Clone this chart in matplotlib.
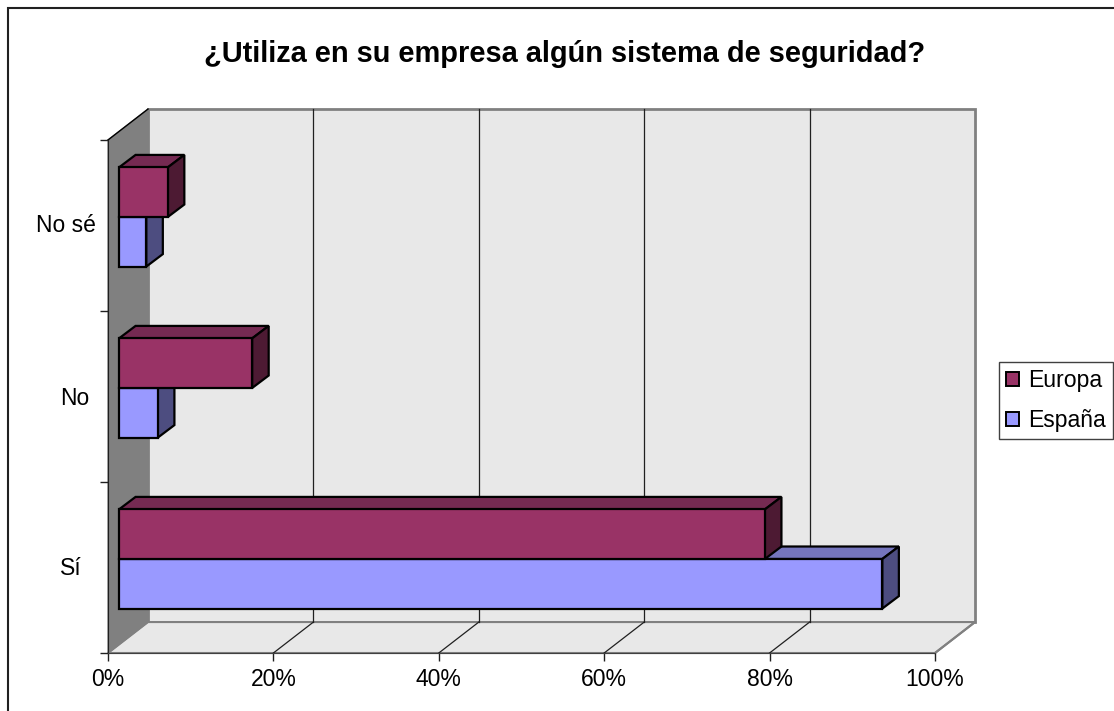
import matplotlib.pyplot as plt
from matplotlib.patches import Polygon, Patch, Rectangle

categories = ['Sí', 'No', 'No sé']
espana = [92.3, 4.7, 3.3]
europa = [78.1, 16.1, 5.9]
x_ticks = [0, 20, 40, 60, 80, 100]
x_labels = ['0%', '20%', '40%', '60%', '80%', '100%']

W, H = 1114, 711
# depth of the box in axis units
DX, DY = 4.84, 0.181
BAR_H = 0.29
BAR_X0 = 0.275 * DX
BAR_Y0 = 0.275 * DY
BAR_DX, BAR_DY = 2.0, 0.073

plt.rcParams['font.family'] = ['Liberation Sans', 'DejaVu Sans']

fig = plt.figure(figsize=(W / 100, H / 100), dpi=100)
# chart border, right and bottom edges run off the picture
fig.add_artist(Rectangle((8 / W, -0.01), 1.02, (H - 8) / H + 0.01, fc='white', ec='#202020', lw=1.5,
                         transform=fig.transFigure, zorder=-1))
ax = fig.add_axes([108 / W, (H - 653) / H, 827 / W, 513 / H])
ax.set_xlim(0, 100)
ax.set_ylim(0, 3)
ax.patch.set_visible(False)


def poly(points, fc, ec='black', lw=1.6, z=2):
    ax.add_patch(Polygon(points, closed=True, fc=fc, ec=ec, lw=lw, zorder=z, clip_on=False, joinstyle='miter'))


# walls and floor
poly([(DX, DY), (100 + DX, DY), (100 + DX, 3 + DY), (DX, 3 + DY)], '#E8E8E8', '#808080', 2, 1)
poly([(0, 0), (100, 0), (100 + DX, DY), (DX, DY)], '#E8E8E8', '#808080', 1.5, 1)
poly([(0, 0), (DX, DY), (DX, 3 + DY), (0, 3)], '#808080', '#808080', 1, 1)
ax.plot([0, DX], [3, 3 + DY], color='black', lw=1, clip_on=False, zorder=1.5)
for t in x_ticks[1:-1]:
    ax.plot([t + DX, t + DX], [DY, 3 + DY], color='#202020', lw=0.9, clip_on=False, zorder=1.5)
    ax.plot([t, t + DX], [0, DY], color='#202020', lw=0.9, clip_on=False, zorder=1.5)
ax.plot([100, 100 + DX], [0, DY], color='#808080', lw=1.5, clip_on=False, zorder=1.5)


def bar3d(val, y, color, top, side, z):
    x0 = BAR_X0
    x1 = BAR_X0 + val
    y0 = y + BAR_Y0
    y1 = y0 + BAR_H
    poly([(x0, y1), (x1, y1), (x1 + BAR_DX, y1 + BAR_DY), (x0 + BAR_DX, y1 + BAR_DY)], top, z=z)
    poly([(x1, y0), (x1 + BAR_DX, y0 + BAR_DY), (x1 + BAR_DX, y1 + BAR_DY), (x1, y1)], side, z=z)
    poly([(x0, y0), (x1, y0), (x1, y1), (x0, y1)], color, z=z)


for i in range(len(categories)):
    bar3d(espana[i], i + 0.5 - BAR_H, '#9999FF', '#7575BD', '#4D4D80', 3 + i)
    bar3d(europa[i], i + 0.5, '#993366', '#752A52', '#4D1A33', 3.5 + i)

ax.set_xticks(x_ticks)
ax.set_xticklabels(x_labels, fontsize=16.5)
ax.set_yticks([0, 1, 2, 3])
ax.set_yticklabels([])
ax.set_yticks([0.51, 1.505, 2.515], minor=True)
ax.set_yticklabels(categories, minor=True, fontsize=16.5)
ax.tick_params(axis='y', which='minor', length=0)
ax.tick_params(axis='y', which='major', length=6, width=1, color='#202020')
ax.tick_params(axis='x', length=6, width=1, color='#202020', pad=5)
for tick, pad in zip(ax.yaxis.get_minor_ticks(), [18.7, 13.7, 8.6]):
    tick.set_pad(pad)
ax.spines['top'].set_visible(False)
ax.spines['right'].set_visible(False)
ax.spines['left'].set_zorder(2)
ax.spines['bottom'].set_color('#404040')
ax.spines['left'].set_color('#202020')

fig.text(564.5 / W, 1 - 54 / H, '¿Utiliza en su empresa algún sistema de seguridad?', ha='center', va='center',
         fontsize=20.9, fontweight='bold')

handles = [Patch(fc='#993366', ec='black', lw=1.4), Patch(fc='#9999FF', ec='black', lw=1.4)]
fig.legend(handles, ['Europa', 'España'], loc='upper left', bbox_to_anchor=(999 / W, 1 - 362 / H), fontsize=16.6,
           frameon=True, fancybox=False, edgecolor='#404040', framealpha=1, handlelength=0.55, handleheight=0.55,
           handletextpad=0.4, labelspacing=0.72, borderpad=0.32, borderaxespad=0)

fig.savefig('out.png', dpi=100)
